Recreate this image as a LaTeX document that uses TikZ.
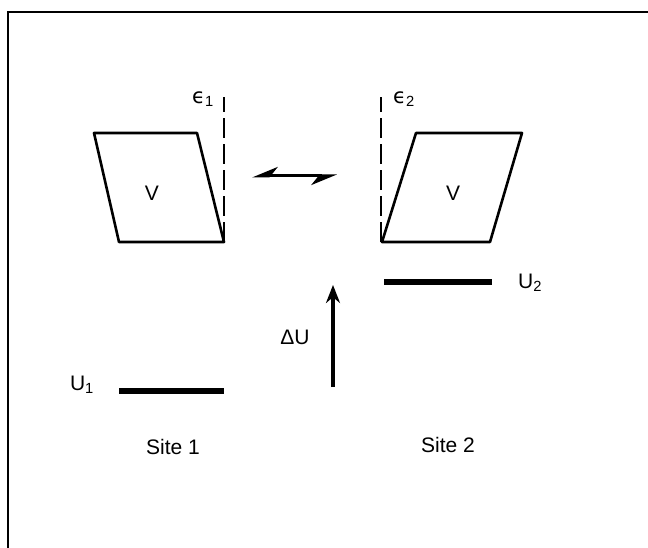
\documentclass[tikz,border=0pt]{standalone}
\usepackage{fontspec}
\setmainfont{Liberation Sans}
\newfontfamily\grk{DejaVu Sans}
\usetikzlibrary{arrows.meta}
\tikzset{
  cell/.style={line width=2.6pt, line join=round},
  level/.style={line width=6pt},
  strain/.style={line width=2pt, dash pattern=on 20pt off 6pt},
  lbl/.style={font=\fontsize{21}{25}\selectfont, inner sep=0pt},
}
\begin{document}
\begin{tikzpicture}[x=1pt,y=-1pt]
\useasboundingbox (0,0) rectangle (648,548);
\draw[line width=2.6pt] (8,548) -- (8,12) -- (648,12);
% site 1
\draw[cell] (94,133) -- (197,133) -- (224,242) -- (119,242) -- cycle;
\node[lbl] (v1) at (152,193) {V};
\coordinate (s1) at (224,242);
\coordinate (t1) at (224,97);
\draw[strain] (s1) -- (t1);
\node[lbl] (e1) at (203,99) {{\grk ϵ}\textsubscript{1}};
% site 2
\draw[cell] (416,133) -- (522,133) -- (490,242) -- (382,242) -- cycle;
\node[lbl] (v2) at (453,193) {V};
\coordinate (s2) at (381,242);
\coordinate (t2) at (381,97);
\draw[strain] (s2) -- (t2);
\node[lbl] (e2) at (404,99) {{\grk ϵ}\textsubscript{2}};
% exchange
\coordinate (xl) at (252,176);
\coordinate (xr) at (337,176);
\draw[line width=3pt, {Stealth[right,length=22pt,width=18pt]}-{Stealth[right,length=22pt,width=18pt]}] (xl) -- (xr);
% levels
\coordinate (u1l) at (119,391);
\coordinate (u1r) at (224,391);
\coordinate (u2l) at (384,282);
\coordinate (u2r) at (492,282);
\draw[level] (u1l) -- (u1r);
\draw[level] (u2l) -- (u2r);
\node[lbl] (u1) at (82,385) {U\textsubscript{1}};
\node[lbl] (u2) at (530,283) {U\textsubscript{2}};
\coordinate (du0) at (333,387);
\coordinate (du1) at (333,285);
\draw[line width=3.2pt, -{Stealth[length=18pt,width=14pt]}] (du0) -- (du1);
\node[lbl] (du) at (295,337) {ΔU};
\node[lbl] (site1) at (173,447) {Site 1};
\node[lbl] (site2) at (448,445) {Site 2};
\end{tikzpicture}
\end{document}
